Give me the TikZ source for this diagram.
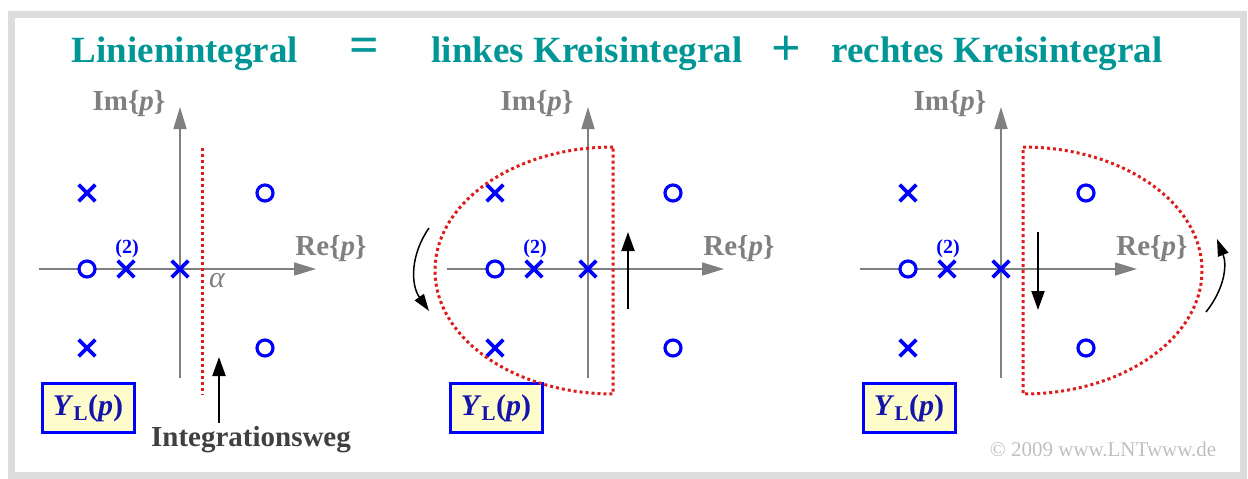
\documentclass[tikz,border=0pt]{standalone}
\usepackage{fontspec}
\setmainfont{Liberation Serif}
\usetikzlibrary{arrows.meta,shapes.misc}
\definecolor{lntteal}{RGB}{0,150,150}
\definecolor{lntgray}{RGB}{128,128,128}
\definecolor{lntred}{RGB}{222,28,28}
\definecolor{lntblue}{RGB}{0,0,255}
\definecolor{lntnavy}{RGB}{20,20,170}
\definecolor{lntframe}{RGB}{220,220,220}
\newcommand{\ylp}{\textit{Y}\textsubscript{L}(\textit{p})}

\begin{document}
\begin{tikzpicture}[x=1pt, y=-1pt,
  title/.style={font=\fontsize{37}{40}\selectfont\bfseries, text=lntteal, anchor=base},
  sign/.style={title, font=\fontsize{52}{54}\selectfont\bfseries},
  axis/.style={lntgray, line width=1.6pt, -{Triangle[length=22pt,width=13pt]}},
  axlab/.style={font=\fontsize{29}{32}\selectfont\bfseries, text=lntgray},
  pole/.style={cross out, draw=lntblue, line width=3.6pt, minimum size=13pt, inner sep=0pt},
  zero/.style={circle, draw=lntblue, fill=white, line width=3.2pt, minimum size=16pt, inner sep=0pt},
  mult/.style={font=\fontsize{20}{22}\selectfont\bfseries, text=lntblue},
  weg/.style={lntred, line width=3pt, dash pattern=on 3pt off 3pt},
  fbox/.style={draw=lntblue, line width=3pt, fill=yellow!20, minimum width=92pt,
               minimum height=49pt, font=\fontsize{30}{32}\selectfont\bfseries, text=lntnavy},
  dir/.style={line width=2pt, -{Triangle[length=19pt,width=13pt]}},
  turn/.style={line width=1.5pt, -{Triangle[length=17pt,width=11pt]}}]
\useasboundingbox (0,0) rectangle (1248,479);
\draw[lntframe, line width=7pt] (11,14) rectangle (1243,475);
% title line
\node[title] (lin) at (185,62) {Linienintegral};
\node[sign]  (eq)  at (364,62) {=};
\node[title] (lks) at (587,62) {linkes Kreisintegral};
\node[sign]  (pl)  at (786,65) {+};
\node[title] (rks) at (997,62) {rechtes Kreisintegral};
% the same p-plane three times
\foreach \dx/\p in {0/a,408/b,821/c}{
  \begin{scope}[xshift=\dx pt]
    \coordinate (\p-w) at (39,269);  \coordinate (\p-e) at (316,269);
    \coordinate (\p-s) at (180,378); \coordinate (\p-n) at (180,107);
    \draw[axis] (\p-w) -- (\p-e);
    \draw[axis] (\p-s) -- (\p-n);
    \node[axlab] (\p-im) at (129,104) {Im\{\textit{p}\}};
    \node[axlab] (\p-re) at (331,249) {Re\{\textit{p}\}};
    \node[zero] (\p-z1) at (87,269)  {};
    \node[zero] (\p-z2) at (265,193) {};
    \node[zero] (\p-z3) at (265,348) {};
    \node[pole] (\p-x1) at (87,193)  {};
    \node[pole] (\p-x2) at (87,348)  {};
    \node[pole] (\p-x3) at (126,269) {};
    \node[pole] (\p-x4) at (180,269) {};
    \node[mult] (\p-m)  at (127,249) {(2)};
    \node[fbox] (\p-y)  at (88,408)  {\ylp};
  \end{scope}
}
% Linienintegral
\coordinate (a-wt) at (202,148); \coordinate (a-wb) at (202,395);
\draw[weg] (a-wt) -- (a-wb);
\node[font=\fontsize{30}{32}\selectfont\itshape, text=lntgray] (alpha) at (217,281) {α};
\node[font=\fontsize{29}{32}\selectfont\bfseries, text=black!75] (iw) at (251,440) {Integrationsweg};
\coordinate (iwtip) at (219,357);
\draw[dir] (iw.north -| iwtip) -- (iwtip);
% linkes Kreisintegral
\draw[weg] (613,147) arc[start angle=-90, end angle=-270, x radius=178, y radius=123.5] -- cycle;
\coordinate (b-u1) at (628,309); \coordinate (b-u2) at (628,232);
\draw[dir] (b-u1) -- (b-u2);
\coordinate (b-c1) at (429,228); \coordinate (b-c2) at (429,311);
\draw[turn] (b-c1) to[bend right=35] (b-c2);
% rechtes Kreisintegral
\draw[weg] (1023,147) arc[start angle=-90, end angle=90, x radius=179, y radius=123.5] -- cycle;
\coordinate (c-d1) at (1038,232); \coordinate (c-d2) at (1038,310);
\draw[dir] (c-d1) -- (c-d2);
\coordinate (c-c1) at (1206,312); \coordinate (c-c2) at (1217,239);
\draw[turn] (c-c1) to[bend right=30] (c-c2);
\node[font=\fontsize{21}{22}\selectfont, text=black!25] (copy) at (1103,449) {© 2009 www.LNTwww.de};
\end{tikzpicture}
\end{document}
